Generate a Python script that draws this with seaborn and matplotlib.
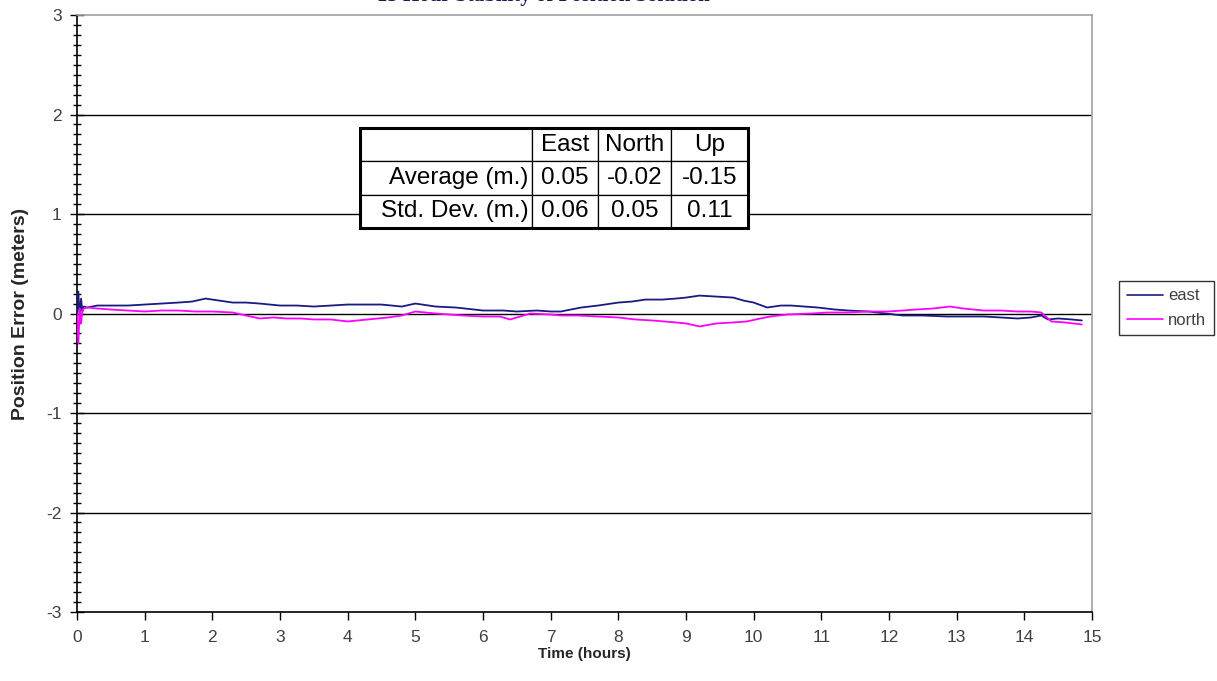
import numpy as np
import pandas as pd
import matplotlib
matplotlib.use("Agg")
import matplotlib.pyplot as plt
from matplotlib.lines import Line2D
import seaborn as sns

# ---- data ----
east_t = [0.0, 0.02, 0.04, 0.06, 0.08, 0.1, 0.15, 0.3, 0.5, 0.75, 1.0, 1.25, 1.5, 1.7, 1.9, 2.1, 2.3,
          2.5, 2.7, 3.0, 3.25, 3.5, 3.75, 4.0, 4.25, 4.5, 4.8, 5.0, 5.3, 5.6, 6.0, 6.3, 6.5, 6.8, 7.0,
          7.15, 7.45, 7.7, 8.0, 8.2, 8.4, 8.65, 8.85, 9.0, 9.2, 9.45, 9.7, 9.85, 10.0, 10.2, 10.4,
          10.55, 10.75, 10.95, 11.2, 11.4, 11.7, 11.95, 12.2, 12.5, 12.85, 13.1, 13.4, 13.65, 13.9,
          14.1, 14.25, 14.35, 14.5, 14.7, 14.85]
east_v = [0.0, 0.22, -0.05, 0.15, 0.02, 0.07, 0.06, 0.08, 0.08, 0.08, 0.09, 0.1, 0.11, 0.12, 0.15, 0.13, 0.11,
          0.11, 0.1, 0.08, 0.08, 0.07, 0.08, 0.09, 0.09, 0.09, 0.07, 0.1, 0.07, 0.06, 0.03, 0.03, 0.02, 0.03, 0.02,
          0.02, 0.06, 0.08, 0.11, 0.12, 0.14, 0.14, 0.15, 0.16, 0.18, 0.17, 0.16, 0.13, 0.11, 0.06, 0.08,
          0.08, 0.07, 0.06, 0.04, 0.03, 0.02, 0.0, -0.02, -0.02, -0.03, -0.03, -0.03, -0.04, -0.05,
          -0.04, -0.02, -0.06, -0.05, -0.06, -0.07]

north_t = [0.0, 0.02, 0.04, 0.06, 0.08, 0.1, 0.15, 0.3, 0.5, 0.75, 1.0, 1.25, 1.5, 1.75, 2.0, 2.3,
           2.5, 2.7, 2.9, 3.1, 3.3, 3.5, 3.75, 4.0, 4.3, 4.6, 4.8, 5.0, 5.3, 5.7, 6.0, 6.25, 6.4, 6.55,
           6.7, 7.0, 7.15, 7.4, 7.7, 8.0, 8.25, 8.5, 8.85, 9.0, 9.2, 9.45, 9.7, 9.9, 10.1, 10.25, 10.5,
           10.85, 11.1, 11.4, 11.7, 11.98, 12.2, 12.4, 12.65, 12.9, 13.1, 13.4, 13.65, 13.9, 14.1, 14.25,
           14.4, 14.6, 14.85]
north_v = [0.0, -0.3, 0.05, -0.1, 0.03, 0.05, 0.06, 0.05, 0.04, 0.03, 0.02, 0.03, 0.03, 0.02, 0.02, 0.01,
           -0.02, -0.05, -0.04, -0.05, -0.05, -0.06, -0.06, -0.08, -0.06, -0.04, -0.02, 0.02, 0.0, -0.02, -0.03, -0.03, -0.06, -0.03,
           0.0, -0.01, -0.02, -0.02, -0.03, -0.04, -0.06, -0.07, -0.09, -0.1, -0.13, -0.1, -0.09, -0.08, -0.05, -0.03, -0.01,
           0.0, 0.01, 0.01, 0.02, 0.02, 0.03, 0.04, 0.05, 0.07, 0.05, 0.03, 0.03, 0.02, 0.02, 0.01,
           -0.08, -0.09, -0.11]

series_names = ["east", "north"]
series_colors = ["#1a1a80", "#ff00ff"]

table_cols = ["", "East", "North", "Up"]
table_rows = [["Average (m.)", "0.05", "-0.02", "-0.15"],
              ["Std. Dev. (m.)", "0.06", "0.05", "0.11"]]

title_text = "15 Hour Stability of Position Solution"
x_label = "Time (hours)"
y_label = "Position Error (meters)"

df = pd.concat([
    pd.DataFrame({"time": east_t, "err": east_v, "series": "east"}),
    pd.DataFrame({"time": north_t, "err": north_v, "series": "north"}),
], ignore_index=True)

# ---- figure ----
sns.set_theme(style="white")
plt.rcParams["font.family"] = ["Liberation Sans", "DejaVu Sans"]
plt.rcParams["axes.unicode_minus"] = False
tick_size = 12.5

W, H = 1217, 681
fig = plt.figure(figsize=(W / 100, H / 100), dpi=100)
ax = fig.add_axes([77 / W, 1 - 612 / H, (1092 - 77) / W, (612 - 15) / H])

sns.lineplot(data=df, x="time", y="err", hue="series", hue_order=series_names,
             palette=dict(zip(series_names, series_colors)), estimator=None, sort=False,
             linewidth=1.3, ax=ax, legend=False, zorder=3)

ax.set_xlim(0, 15)
ax.set_ylim(-3, 3)
ax.set_xticks(range(0, 16))
ax.set_yticks(range(-3, 4))
ax.set_yticks(np.arange(-3, 3.01, 0.1), minor=True)

for yv in [-2, -1, 0, 1, 2]:
    ax.axhline(yv, color="black", lw=1.0, zorder=1)

for side in ["top", "right"]:
    ax.spines[side].set_color("#a0a0a0")
    ax.spines[side].set_linewidth(1.2)
for side in ["left", "bottom"]:
    ax.spines[side].set_color("black")
    ax.spines[side].set_linewidth(1.2)

ax.tick_params(axis="y", which="major", direction="inout", length=10, width=1, color="black",
               labelsize=tick_size, labelcolor="#404040", left=True, pad=6)
ax.tick_params(axis="y", which="minor", direction="inout", length=6, width=1, color="black", left=True)
ax.tick_params(axis="x", which="major", direction="out", length=6, width=1, color="black",
               labelsize=tick_size, labelcolor="#404040", bottom=True, pad=7)

ax.set_xlabel(x_label, fontsize=11, fontweight="bold")
ax.xaxis.set_label_coords(0.5, (612 - 647) / 597)
ax.set_ylabel(y_label, fontsize=14, fontweight="bold")
ax.yaxis.set_label_coords((29 - 77) / 1015, 0.5)

# title (mostly cut off at the top of the image, as in the reference)
fig.text(543 / W, 1 - 1 / H, title_text, ha="center", va="baseline",
         fontsize=15, fontweight="bold", color="#1a1a55", family="Liberation Serif")

# statistics table
tx0, tx1, ty0, ty1 = 360, 748, 128, 228
bbox = [(tx0 - 77) / 1015, (612 - ty1) / 597, (tx1 - tx0) / 1015, (ty1 - ty0) / 597]
tbl = ax.table(cellText=table_rows, colLabels=table_cols,
               colWidths=[172, 66, 73, 77], cellLoc="center", bbox=bbox, zorder=5)
tbl.auto_set_font_size(False)
tbl.set_fontsize(17.5)
for (r, c), cell in tbl.get_celld().items():
    cell.set_facecolor("white")
    cell.set_edgecolor("black")
    cell.set_linewidth(0.9)
    cell.get_text().set_color("black")
    cell.PAD = 0.02
    if c == 0:
        cell._loc = "right"
        cell.get_text().set_ha("right")
ax.add_patch(plt.Rectangle((bbox[0], bbox[1]), bbox[2], bbox[3],
                           transform=ax.transAxes, fill=False, edgecolor="black", lw=2.2, zorder=6))

# legend
handles = [Line2D([0], [0], color=c, lw=1.2) for c in series_colors]
leg = fig.legend(handles, series_names, loc="upper left",
                 bbox_to_anchor=(1119 / W, 1 - 281 / H),
                 prop={"size": 12},
                 frameon=True, fancybox=False, edgecolor="black", handlelength=2.2,
                 handletextpad=0.3, borderpad=0.45, labelspacing=0.55, borderaxespad=0)
leg.get_frame().set_linewidth(1.0)
for t in leg.get_texts():
    t.set_color("#404040")

fig.savefig("out.png", dpi=100, facecolor="white")
